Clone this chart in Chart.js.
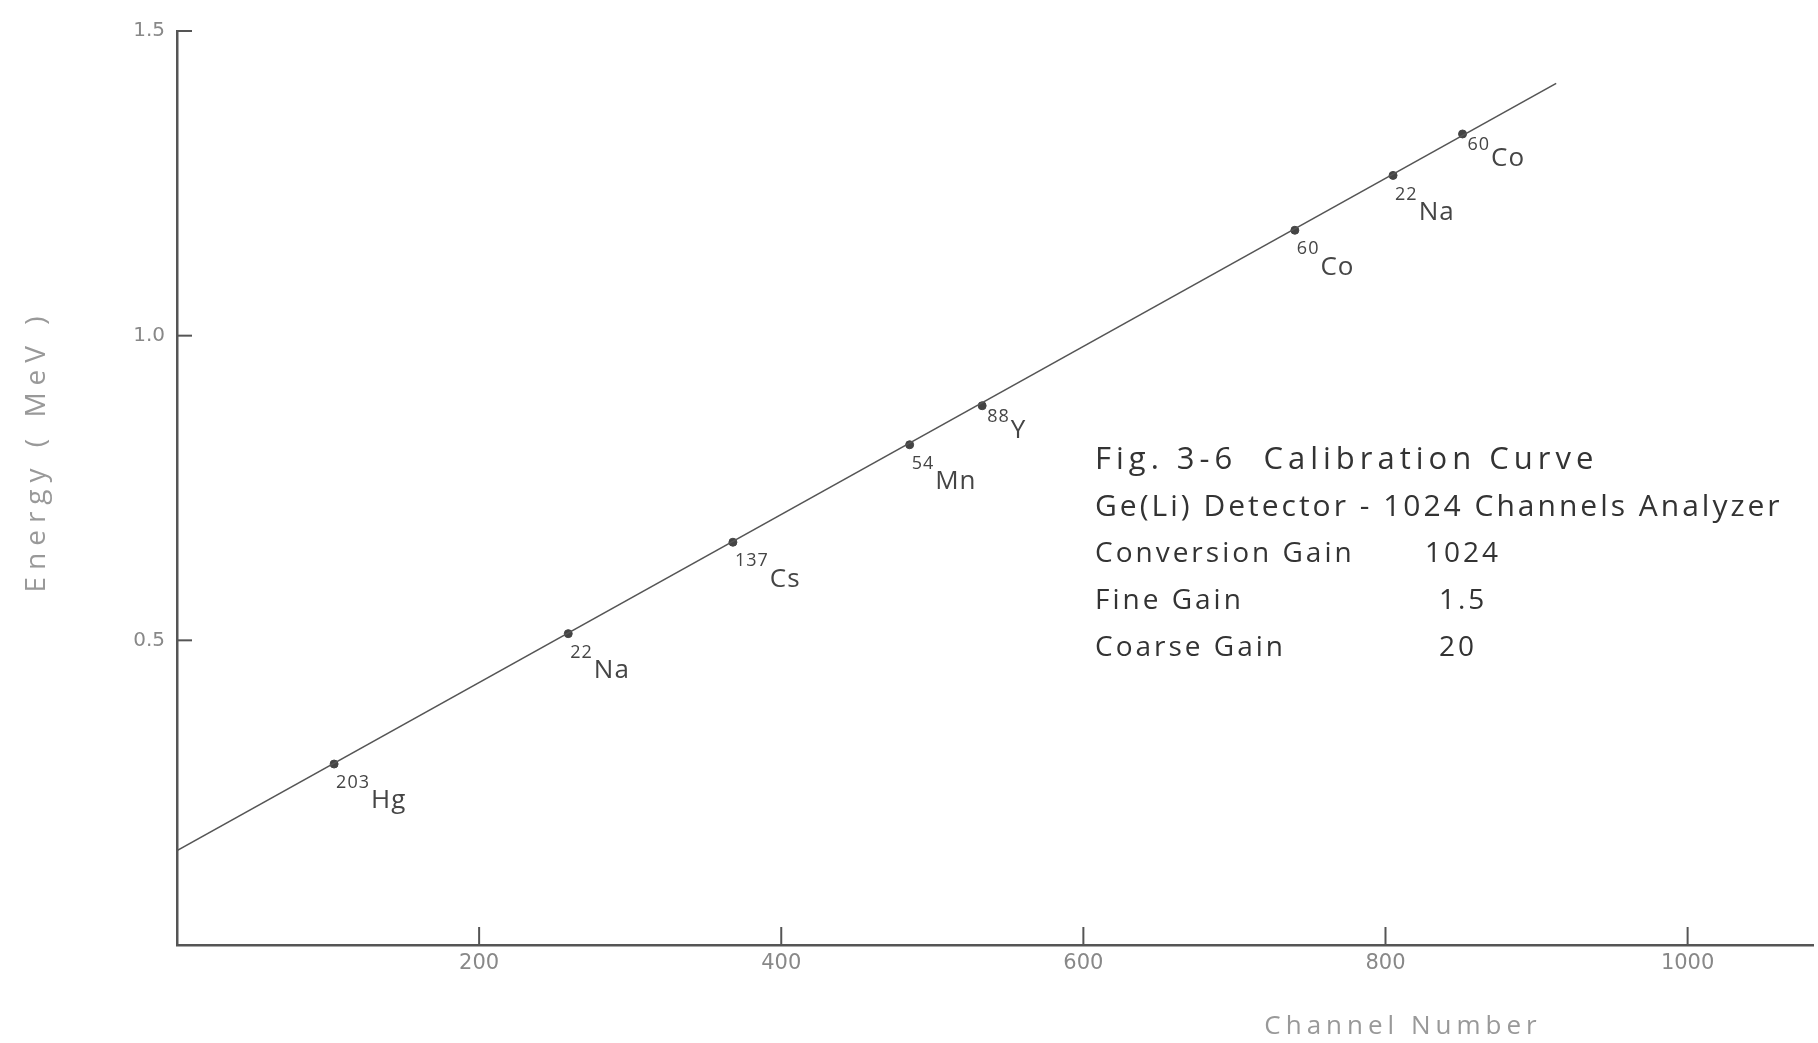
<!DOCTYPE html>
<html lang="en">
<head>
<meta charset="UTF-8">
<title>Calibration curve</title>
<script src="https://cdn.jsdelivr.net/npm/chart.js@4.4.1/dist/chart.umd.min.js"></script>
<style>
    body { margin: 0; background: #fff; }
    #wrap { width: 1818px; height: 1043px; }
</style>
</head>
<body>
<div id="wrap"><canvas id="myChart"></canvas></div>
<script>
    var channels = [104, 259, 368, 485, 533, 740, 805, 851];
    var energies = [0.297, 0.511, 0.661, 0.821, 0.885, 1.173, 1.263, 1.331];
    var massNumbers = ['203', '22', '137', '54', '88', '60', '22', '60'];
    var elements = ['Hg', 'Na', 'Cs', 'Mn', 'Y', 'Co', 'Na', 'Co'];
    var labelSide = ['below', 'below', 'below', 'below', 'right', 'below', 'below', 'right'];

    // drawn calibration line ends
    var fitChannels = [0, 913];
    var fitEnergies = [0.155, 1.414];

    var xTicks = [200, 400, 600, 800, 1000];
    var yTicks = [0.5, 1.0, 1.5];

    var noteTitle = ['Fig. 3-6  Calibration Curve', 'Ge(Li) Detector - 1024 Channels Analyzer'];
    var noteNames = ['Conversion Gain', 'Fine Gain', 'Coarse Gain'];
    var noteValues = ['1024', '1.5', '20'];

    var ink = '#454545';

    var inwardTicks = {
        id: 'inwardTicks',
        afterDraw: function (chart) {
            var ctx = chart.ctx, a = chart.chartArea;
            var xs = chart.scales.x, ys = chart.scales.y;
            ctx.save();
            ctx.strokeStyle = '#555';
            ctx.lineWidth = 2;
            xTicks.forEach(function (v) {
                var px = xs.getPixelForValue(v);
                ctx.beginPath();
                ctx.moveTo(px, a.bottom);
                ctx.lineTo(px, a.bottom - 18);
                ctx.stroke();
            });
            yTicks.forEach(function (v) {
                var py = ys.getPixelForValue(v);
                ctx.beginPath();
                ctx.moveTo(a.left, py);
                ctx.lineTo(a.left + 15, py);
                ctx.stroke();
            });
            ctx.restore();
        }
    };

    var isotopeLabels = {
        id: 'isotopeLabels',
        afterDatasetsDraw: function (chart) {
            var ctx = chart.ctx;
            var xs = chart.scales.x, ys = chart.scales.y;
            ctx.save();
            ctx.fillStyle = ink;
            ctx.textAlign = 'left';
            ctx.textBaseline = 'middle';
            ctx.letterSpacing = '1px';
            channels.forEach(function (c, i) {
                var px = xs.getPixelForValue(c);
                var py = ys.getPixelForValue(energies[i]);
                var sx = px + 2, sy = py + 19, ey = py + 37;
                if (labelSide[i] === 'right') {
                    sx = px + 5; sy = py + 11; ey = py + 25;
                }
                ctx.font = '18px "Open Sans"';
                ctx.fillText(massNumbers[i], sx, sy);
                var w = ctx.measureText(massNumbers[i]).width;
                ctx.font = '26px "Open Sans"';
                ctx.fillText(elements[i], sx + w + 1, ey);
            });
            ctx.restore();
        }
    };

    var notes = {
        id: 'notes',
        afterDraw: function (chart) {
            var ctx = chart.ctx, a = chart.chartArea;
            var left = a.left + 918, valLeft = a.left + 1248;
            var top = a.top + 429, step = 47;
            ctx.save();
            ctx.fillStyle = '#333';
            ctx.textAlign = 'left';
            ctx.textBaseline = 'middle';
            ctx.font = '31px "Open Sans"';
            ctx.letterSpacing = '5px';
            ctx.fillText(noteTitle[0], left, top);
            ctx.font = '30px "Open Sans"';
            ctx.letterSpacing = '3px';
            ctx.fillText(noteTitle[1], left, top + step);
            ctx.font = '28px "Open Sans"';
            noteNames.forEach(function (t, i) {
                var y = top + (i + 2) * step;
                ctx.fillText(t, left, y);
                ctx.fillText(noteValues[i], valLeft + (i ? 14 : 0), y);
            });
            ctx.restore();
        }
    };

    var axisTitles = {
        id: 'axisTitles',
        afterDraw: function (chart) {
            var ctx = chart.ctx, a = chart.chartArea;
            ctx.save();
            ctx.fillStyle = '#999';
            ctx.textAlign = 'center';
            ctx.textBaseline = 'middle';
            ctx.font = '28px "Open Sans"';
            ctx.letterSpacing = '7px';
            ctx.translate(a.left - 140, a.top + 420);
            ctx.rotate(-Math.PI / 2);
            ctx.fillText('Energy ( MeV )', 0, 0);
            ctx.restore();

            ctx.save();
            ctx.fillStyle = '#999';
            ctx.textAlign = 'center';
            ctx.textBaseline = 'middle';
            ctx.font = '26px "Open Sans"';
            ctx.letterSpacing = '5px';
            ctx.fillText('Channel Number', a.left + 1226, a.bottom + 82);
            ctx.restore();
        }
    };

    var ctx = document.getElementById('myChart');
    var myChart = new Chart(ctx, {
        type: 'scatter',
        data: {
            datasets: [{
                type: 'line',
                data: fitChannels.map(function (x, i) { return { x: x, y: fitEnergies[i] }; }),
                borderColor: '#555',
                borderWidth: 1.6,
                pointRadius: 0,
                fill: false
            }, {
                data: channels.map(function (x, i) { return { x: x, y: energies[i] }; }),
                backgroundColor: '#444',
                borderColor: '#444',
                pointRadius: 4
            }]
        },
        options: {
            responsive: true,
            maintainAspectRatio: false,
            animation: false,
            layout: { padding: { top: 31, right: 0, left: 0, bottom: 0 } },
            plugins: {
                legend: { display: false },
                tooltip: { enabled: false }
            },
            scales: {
                x: {
                    type: 'linear',
                    min: 0,
                    max: 1083,
                    afterBuildTicks: function (s) { s.ticks = xTicks.map(function (v) { return { value: v }; }); },
                    afterFit: function (s) { s.height = 98; },
                    grid: { drawOnChartArea: false, drawTicks: false },
                    border: { display: true, color: '#555', width: 2.5 },
                    ticks: {
                        color: '#888',
                        font: { family: 'DejaVu Sans', size: 21 },
                        padding: 6,
                        maxRotation: 0,
                        autoSkip: false,
                        callback: function (v) { return String(v); }
                    }
                },
                y: {
                    min: 0,
                    max: 1.5,
                    afterBuildTicks: function (s) { s.ticks = yTicks.map(function (v) { return { value: v }; }); },
                    afterFit: function (s) { s.width = 177; },
                    grid: { drawOnChartArea: false, drawTicks: false },
                    border: { display: true, color: '#555', width: 2.5 },
                    ticks: {
                        color: '#888',
                        font: { family: 'DejaVu Sans', size: 20 },
                        padding: 12,
                        callback: function (v) { return v.toFixed(1); }
                    }
                }
            }
        },
        plugins: [inwardTicks, isotopeLabels, notes, axisTitles]
    });
</script>
</body>
</html>
